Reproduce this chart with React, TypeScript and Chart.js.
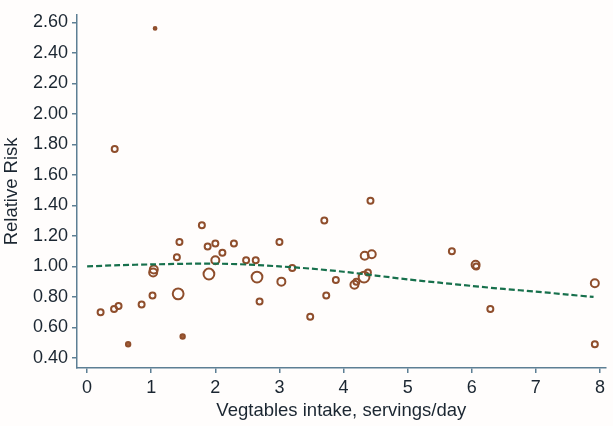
import React, { useEffect, useRef } from "react";
import { Chart, registerables } from "chart.js";

Chart.register(...registerables);

// Study estimates: vegetable intake (servings/day), relative risk, study weight (marker size class)
const intake = [
  0.21, 0.42, 0.49, 0.64, 0.85, 1.02, 1.03, 1.04, 1.06, 0.43,
  1.40, 1.44, 1.42, 1.49, 1.79, 1.88, 2.00, 1.90, 2.00, 2.11,
  2.29, 2.48, 2.63, 2.65, 2.69, 3.00, 3.03, 3.20, 3.48, 3.70,
  3.73, 3.88, 4.17, 4.20, 4.32, 4.38, 4.33, 4.44, 4.42, 5.69,
  6.06, 6.07, 6.29, 7.92, 7.92,
];
const relRisk = [
  0.70, 0.72, 0.74, 0.49, 0.75, 0.81, 0.96, 0.98, 2.56, 1.77,
  1.06, 1.16, 0.82, 0.54, 1.27, 1.13, 1.15, 0.95, 1.04, 1.09,
  1.15, 1.04, 1.04, 0.93, 0.77, 1.16, 0.90, 0.99, 0.67, 1.30,
  0.81, 0.91, 0.88, 0.90, 0.93, 0.96, 1.07, 1.08, 1.43, 1.10,
  1.01, 1.00, 0.72, 0.89, 0.49,
];
const weight = [
  2, 2, 2, 1, 2, 2, 3, 3, 0, 2,
  2, 2, 4, 1, 2, 2, 2, 4, 3, 2,
  2, 2, 2, 4, 2, 2, 3, 2, 2, 2,
  2, 2, 3, 2, 4, 2, 3, 3, 2, 2,
  3, 2, 2, 3, 2,
];

// Fitted dose-response curve
const curveX = [0, 0.5, 1, 1.5, 2, 2.5, 3, 3.5, 4, 4.5, 5, 5.5, 6, 6.5, 7, 7.5, 7.9];
const curveY = [1.0, 1.008, 1.013, 1.017, 1.018, 1.012, 1.0, 0.985, 0.965, 0.94, 0.915, 0.893, 0.872, 0.852, 0.835, 0.815, 0.8];

const xTicks = [0, 1, 2, 3, 4, 5, 6, 7, 8];
const yTicks = [0.4, 0.6, 0.8, 1.0, 1.2, 1.4, 1.6, 1.8, 2.0, 2.2, 2.4, 2.6];

const xTitle = "Vegtables intake, servings/day";
const yTitle = "Relative Risk";

const radiusBySize = [1.4, 2.2, 3.0, 4.0, 5.4];
const axisColor = "#5d7f94";
const textColor = "#1b2631";
const font = "'Liberation Sans', Arial, sans-serif";

export default function App() {
  const ref = useRef<HTMLCanvasElement | null>(null);

  useEffect(() => {
    const canvas = ref.current;
    if (!canvas) return;
    const bg = {
      id: "bg",
      beforeDraw(chart: any) {
        const { ctx, width, height } = chart;
        ctx.save();
        ctx.fillStyle = "#fffdfc";
        ctx.fillRect(0, 0, width, height);
        ctx.restore();
      },
    };
    const chart = new Chart(canvas, {
      type: "scatter",
      data: {
        datasets: [
          {
            type: "line",
            data: curveX.map((x, i) => ({ x, y: curveY[i] })),
            borderColor: "#17704c",
            borderWidth: 2.2,
            borderDash: [6, 3],
            pointRadius: 0,
            tension: 0.3,
            fill: false,
            order: 0,
          } as any,
          {
            data: intake.map((x, i) => ({ x, y: relRisk[i] })),
            pointRadius: weight.map((w) => radiusBySize[w]),
            pointBackgroundColor: weight.map((w) => (w <= 1 ? "#a55f38" : "rgba(255,255,255,0)")),
            pointBorderColor: "#8f4e2c",
            pointBorderWidth: 2,
            order: 1,
          },
        ],
      },
      options: {
        responsive: false,
        animation: false,
        layout: { padding: { top: 8, right: 0, left: 0, bottom: 0 } },
        plugins: { legend: { display: false }, tooltip: { enabled: false } },
        scales: {
          x: {
            type: "linear",
            min: -0.158,
            max: 8.088,
            afterBuildTicks: (s: any) => {
              s.ticks = xTicks.map((v) => ({ value: v }));
            },
            afterFit: (s: any) => {
              s.height = 58;
            },
            grid: { display: true, drawOnChartArea: false, drawTicks: true, tickLength: 5, color: axisColor, lineWidth: 1.5 },
            border: { display: true, color: axisColor, width: 1.5 },
            ticks: {
              color: textColor,
              font: { family: font, size: 18 },
              padding: 4,
              maxRotation: 0,
              callback: (v: any) => String(v),
            },
            title: {
              display: true,
              text: xTitle,
              color: textColor,
              font: { family: font, size: 18.5 },
              padding: { top: 0, bottom: 4 },
            },
          },
          y: {
            type: "linear",
            min: 0.334,
            max: 2.649,
            afterBuildTicks: (s: any) => {
              s.ticks = yTicks.map((v) => ({ value: v }));
            },
            afterFit: (s: any) => {
              s.width = 77;
            },
            grid: { display: true, drawOnChartArea: false, drawTicks: true, tickLength: 5, color: axisColor, lineWidth: 1.5 },
            border: { display: true, color: axisColor, width: 1.5 },
            ticks: {
              color: textColor,
              font: { family: font, size: 18 },
              padding: 4,
              callback: (v: any) => Number(v).toFixed(2),
            },
            title: {
              display: true,
              text: yTitle,
              color: textColor,
              font: { family: font, size: 18.5 },
              padding: { top: 1, bottom: 0 },
            },
          },
        },
      },
      plugins: [bg],
    });
    return () => chart.destroy();
  }, []);

  return (
    <div style={{ position: "fixed", left: 0, top: 0, width: 613, height: 426 }}>
      <canvas ref={ref} width={613} height={426} style={{ display: "block" }} />
    </div>
  );
}
